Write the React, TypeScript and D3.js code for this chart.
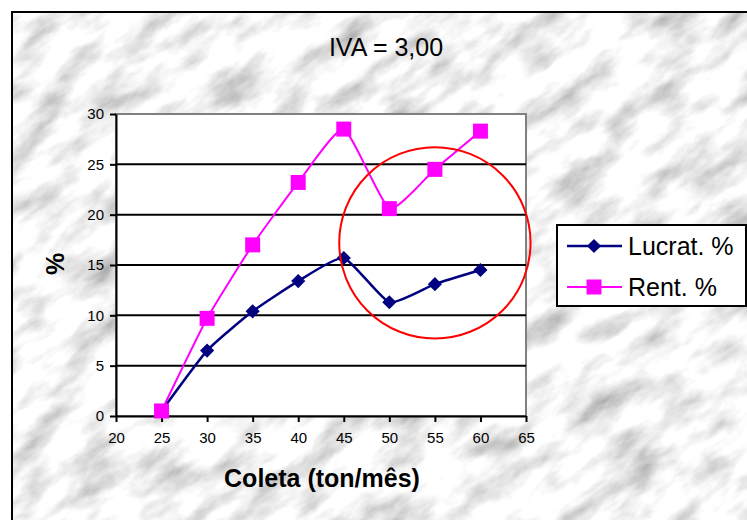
import { useEffect, useRef } from 'react'
import * as d3 from 'd3'

// Coleta (ton/mês)
const coleta = [25, 30, 35, 40, 45, 50, 55, 60]
const lucrat = [0.5, 6.5, 10.4, 13.4, 15.7, 11.3, 13.1, 14.5]
const rent = [0.5, 9.7, 17.0, 23.2, 28.5, 20.6, 24.5, 28.3]

const xTicks = [20, 25, 30, 35, 40, 45, 50, 55, 60, 65]
const yTicks = [0, 5, 10, 15, 20, 25, 30]

const seriesNames = ['Lucrat. %', 'Rent. %']

// red highlight circle (data coords, radius in x units)
const circleCenter = [55, 17.2]
const circleRadius = 10.5

const width = 747
const height = 520
const plot = { left: 116, right: 526, top: 114, bottom: 416 }
const FONT = 'Arial, "Liberation Sans", sans-serif'

function App() {
  const ref = useRef<SVGSVGElement>(null)

  useEffect(() => {
    drawChart()
  }, [])

  const drawChart = () => {
    const root = d3.select(ref.current)
    root.selectAll('*').remove()

    const defs = root.append('defs')
    const filter = defs
      .append('filter')
      .attr('id', 'marble')
      .attr('x', 0)
      .attr('y', 0)
      .attr('width', '100%')
      .attr('height', '100%')
    filter
      .append('feTurbulence')
      .attr('type', 'fractalNoise')
      .attr('baseFrequency', '0.018 0.04')
      .attr('numOctaves', 5)
      .attr('seed', 11)
    filter
      .append('feColorMatrix')
      .attr('type', 'matrix')
      .attr(
        'values',
        '1.15 0 0 0 0.33  1.15 0 0 0 0.33  1.15 0 0 0 0.33  0 0 0 0 1'
      )
    defs
      .append('clipPath')
      .attr('id', 'bgclip')
      .append('rect')
      .attr('x', 11)
      .attr('y', 11)
      .attr('width', width)
      .attr('height', height)

    // background
    root.append('rect').attr('width', width).attr('height', height).attr('fill', '#fff')
    root
      .append('g')
      .attr('clip-path', 'url(#bgclip)')
      .append('g')
      .attr('transform', `rotate(-35 ${width / 2} ${height / 2})`)
      .append('rect')
      .attr('x', -300)
      .attr('y', -400)
      .attr('width', width + 600)
      .attr('height', height + 800)
      .attr('filter', 'url(#marble)')
    root
      .append('path')
      .attr('d', `M12,${height} V12 H${width}`)
      .attr('fill', 'none')
      .attr('stroke', '#000')
      .attr('stroke-width', 2)

    const xScale = d3.scaleLinear().domain([20, 65]).range([plot.left, plot.right])
    const yScale = d3.scaleLinear().domain([0, 30]).range([plot.bottom, plot.top])

    // plot area
    root
      .append('rect')
      .attr('x', plot.left)
      .attr('y', plot.top)
      .attr('width', plot.right - plot.left)
      .attr('height', plot.bottom - plot.top)
      .attr('fill', '#fff')
      .attr('stroke', '#808080')
      .attr('stroke-width', 2)

    // grid
    root
      .append('g')
      .selectAll('line')
      .data(yTicks.filter((t) => t > 0 && t < 30))
      .join('line')
      .attr('x1', plot.left)
      .attr('x2', plot.right)
      .attr('y1', (d) => yScale(d))
      .attr('y2', (d) => yScale(d))
      .attr('stroke', '#000')
      .attr('stroke-width', 2)

    // axes
    const xAxis = root
      .append('g')
      .attr('transform', `translate(0,${plot.bottom})`)
      .call(d3.axisBottom(xScale).tickValues(xTicks).tickSize(6).tickSizeOuter(0))
    const yAxis = root
      .append('g')
      .attr('transform', `translate(${plot.left},0)`)
      .call(d3.axisLeft(yScale).tickValues(yTicks).tickSize(6).tickSizeOuter(0))
    for (const ax of [xAxis, yAxis]) {
      ax.select('.domain').attr('stroke', '#000').attr('stroke-width', 2)
      ax.selectAll('.tick line').attr('stroke', '#000').attr('stroke-width', 2)
      ax.selectAll('.tick text')
        .attr('fill', '#000')
        .style('font-family', FONT)
        .style('font-size', '15px')
    }
    xAxis.selectAll('.tick text').attr('y', 16)
    yAxis.selectAll('.tick text').attr('x', -12)

    const line = d3
      .line<number>()
      .x((_, i) => xScale(coleta[i]))
      .y((d) => yScale(d))
      .curve(d3.curveCardinal.tension(0.5))

    const series = [
      { name: seriesNames[0], values: lucrat, color: '#000080', shape: d3.symbolSquare, size: 100, rot: 45, sw: 2.5 },
      { name: seriesNames[1], values: rent, color: '#ff00ff', shape: d3.symbolSquare, size: 225, rot: 0, sw: 2 },
    ]

    for (const s of series) {
      root
        .append('path')
        .datum(s.values)
        .attr('fill', 'none')
        .attr('stroke', s.color)
        .attr('stroke-width', s.sw)
        .attr('d', line)
    }
    for (const s of series) {
      root
        .append('g')
        .selectAll('path')
        .data(s.values)
        .join('path')
        .attr('transform', (d, i) => `translate(${xScale(coleta[i])},${yScale(d)}) rotate(${s.rot})`)
        .attr('d', d3.symbol(s.shape, s.size)())
        .attr('fill', s.color)
    }

    // highlight circle
    const cx = xScale(circleCenter[0])
    root
      .append('circle')
      .attr('cx', cx)
      .attr('cy', yScale(circleCenter[1]))
      .attr('r', xScale(circleCenter[0] + circleRadius) - cx)
      .attr('fill', 'none')
      .attr('stroke', '#ff0000')
      .attr('stroke-width', 2)

    // titles
    root
      .append('text')
      .attr('x', 386)
      .attr('y', 56)
      .attr('text-anchor', 'middle')
      .style('font-family', FONT)
      .style('font-size', '25px')
      .text('IVA = 3,00')
    root
      .append('text')
      .attr('x', 322)
      .attr('y', 487)
      .attr('text-anchor', 'middle')
      .style('font-family', FONT)
      .style('font-size', '25px')
      .style('font-weight', 'bold')
      .text('Coleta (ton/mês)')
    root
      .append('text')
      .attr('transform', 'translate(64,264) rotate(-90)')
      .attr('text-anchor', 'middle')
      .style('font-family', FONT)
      .style('font-size', '25px')
      .style('font-weight', 'bold')
      .text('%')

    // legend
    const legend = root.append('g').attr('transform', 'translate(557,225)')
    legend
      .append('rect')
      .attr('width', 189)
      .attr('height', 81)
      .attr('fill', '#fff')
      .attr('stroke', '#000')
      .attr('stroke-width', 2)
    series.forEach((s, i) => {
      const y = 21 + i * 41
      legend
        .append('line')
        .attr('x1', 10)
        .attr('x2', 65)
        .attr('y1', y)
        .attr('y2', y)
        .attr('stroke', s.color)
        .attr('stroke-width', s.sw)
      legend
        .append('path')
        .attr('transform', `translate(37,${y}) rotate(${s.rot})`)
        .attr('d', d3.symbol(s.shape, s.size)())
        .attr('fill', s.color)
      legend
        .append('text')
        .attr('x', 71)
        .attr('y', y + 9)
        .style('font-family', FONT)
        .style('font-size', '25px')
        .text(s.name)
    })
  }

  return (
    <svg
      ref={ref}
      width={width}
      height={height}
      style={{ position: 'absolute', left: 0, top: 0, display: 'block' }}
    />
  )
}

export default App
